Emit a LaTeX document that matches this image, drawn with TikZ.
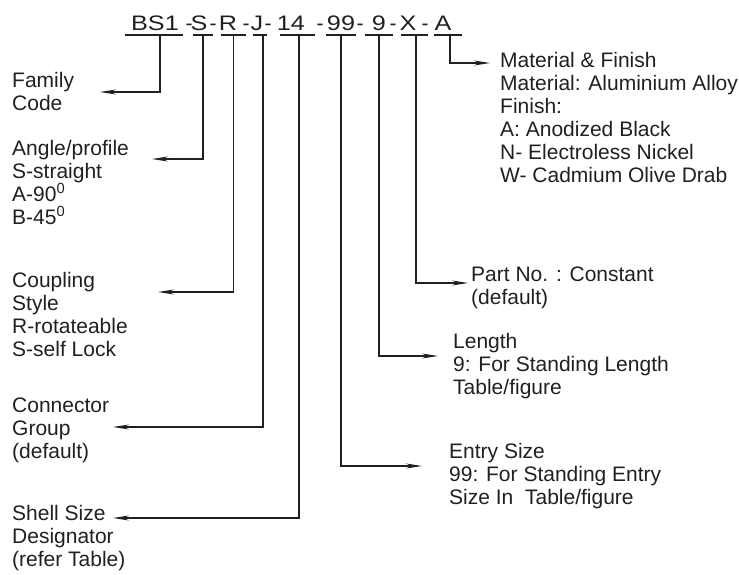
\documentclass[tikz,border=0pt]{standalone}
\usepackage{fontspec}
\setmainfont{Liberation Sans}
\usepackage{graphicx}
\usepackage{tikz}
\usetikzlibrary{arrows.meta}
\usepackage{xcolor}
\definecolor{ink}{RGB}{35,31,32}
\newcommand{\wide}[1]{\scalebox{1.2}[1]{#1}}

\begin{document}
\begin{tikzpicture}[
  x=1pt,y=-1pt,
  every node/.style={text=ink},
  code/.style={anchor=base,font=\fontsize{21}{24}\selectfont,inner sep=0pt},
  uline/.style={minimum width=#1,minimum height=0pt,inner sep=0pt},
  lbl/.style={anchor=north west,align=left,inner sep=0pt,font=\fontsize{21}{23}\selectfont},
  arr/.style={draw=ink,line width=1.2pt,-{Stealth[length=16pt,width=5pt]}}
]
\useasboundingbox (0,0) rectangle (739,574);
% part number
\node[code] (famcode) at (155,30) {\wide{BS1}};
\node[code] (angcode) at (199,30) {\wide{S}};
\node[code] (cplcode) at (228,30) {\wide{R}};
\node[code] (grpcode) at (257,30) {\wide{J}};
\node[code] (shlcode) at (291,30) {\wide{14}};
\node[code] (entcode) at (341,30) {\wide{99}};
\node[code] (lencode) at (379,30) {\wide{9}};
\node[code] (prtcode) at (408,30) {\wide{X}};
\node[code] (matcode) at (443,30) {\wide{A}};
\foreach \x [count=\i] in {189,213,246,268,320,360,393,425}
  \node[code] (hy\i) at (\x,30) {-};
% underlines
\node[uline=58pt] (fam) at (154,35) {};
\node[uline=20pt] (ang) at (203,35) {};
\node[uline=25pt] (cpl) at (233.5,35) {};
\node[uline=14pt] (grp) at (260,35) {};
\node[uline=35pt] (shl) at (297.5,35) {};
\node[uline=30pt] (ent) at (341,35) {};
\node[uline=28pt] (len) at (379,35) {};
\node[uline=27pt] (prt) at (414.5,35) {};
\node[uline=28pt] (mat) at (448,35) {};
\foreach \n in {fam,ang,cpl,grp,shl,ent,len,prt,mat}
  \draw[ink,line width=1.2pt] (\n.west) -- (\n.east);
% descriptions
\node[lbl] (famtxt) at (12,72) {Family\\Code};
\node[lbl] (angtxt) at (12,140) {Angle/profile\\S-straight\\A-90\textsuperscript{0}\\B-45\textsuperscript{0}};
\node[lbl] (cpltxt) at (12,272) {Coupling\\Style\\R-rotateable\\S-self Lock};
\node[lbl] (grptxt) at (12,398) {Connector\\Group\\(default)};
\node[lbl] (shltxt) at (12,505) {Shell Size\\Designator\\(refer Table)};
\node[lbl] (mattxt) at (500,52) {Material \& Finish\\Material: Aluminium Alloy\\Finish:\\A: Anodized Black\\N- Electroless Nickel\\W- Cadmium Olive Drab};
\node[lbl] (prttxt) at (471,267) {Part No. : Constant\\(default)};
\node[lbl] (lentxt) at (453,333) {Length\\9: For Standing Length\\Table/figure};
\node[lbl] (enttxt) at (449,443) {Entry Size\\99: For Standing Entry\\Size In~ Table/figure};
% arrow ends
\coordinate (famtip) at (100,92);
\coordinate (angtip) at (152,159);
\coordinate (cpltip) at (158,292);
\coordinate (grptip) at (113,427);
\coordinate (shltip) at (113,518);
\coordinate (prttip) at (468,283);
\coordinate (lentip) at (438,356);
\coordinate (enttip) at (422,466);
\coordinate (mattip) at (490,63);
\draw[arr] ([xshift=6pt]fam.center) |- (famtip);
\draw[arr] (ang) |- (angtip);
\draw[arr] (cpl) |- (cpltip);
\draw[arr] ([xshift=3pt]grp.center) |- (grptip);
\draw[arr] ([xshift=1.5pt]shl.center) |- (shltip);
\draw[arr] (ent) |- (enttip);
\draw[arr] (len) |- (lentip);
\draw[arr] ([xshift=1.5pt]prt.center) |- (prttip);
\draw[arr] ([xshift=2pt]mat.center) |- (mattip);
\end{tikzpicture}
\end{document}
